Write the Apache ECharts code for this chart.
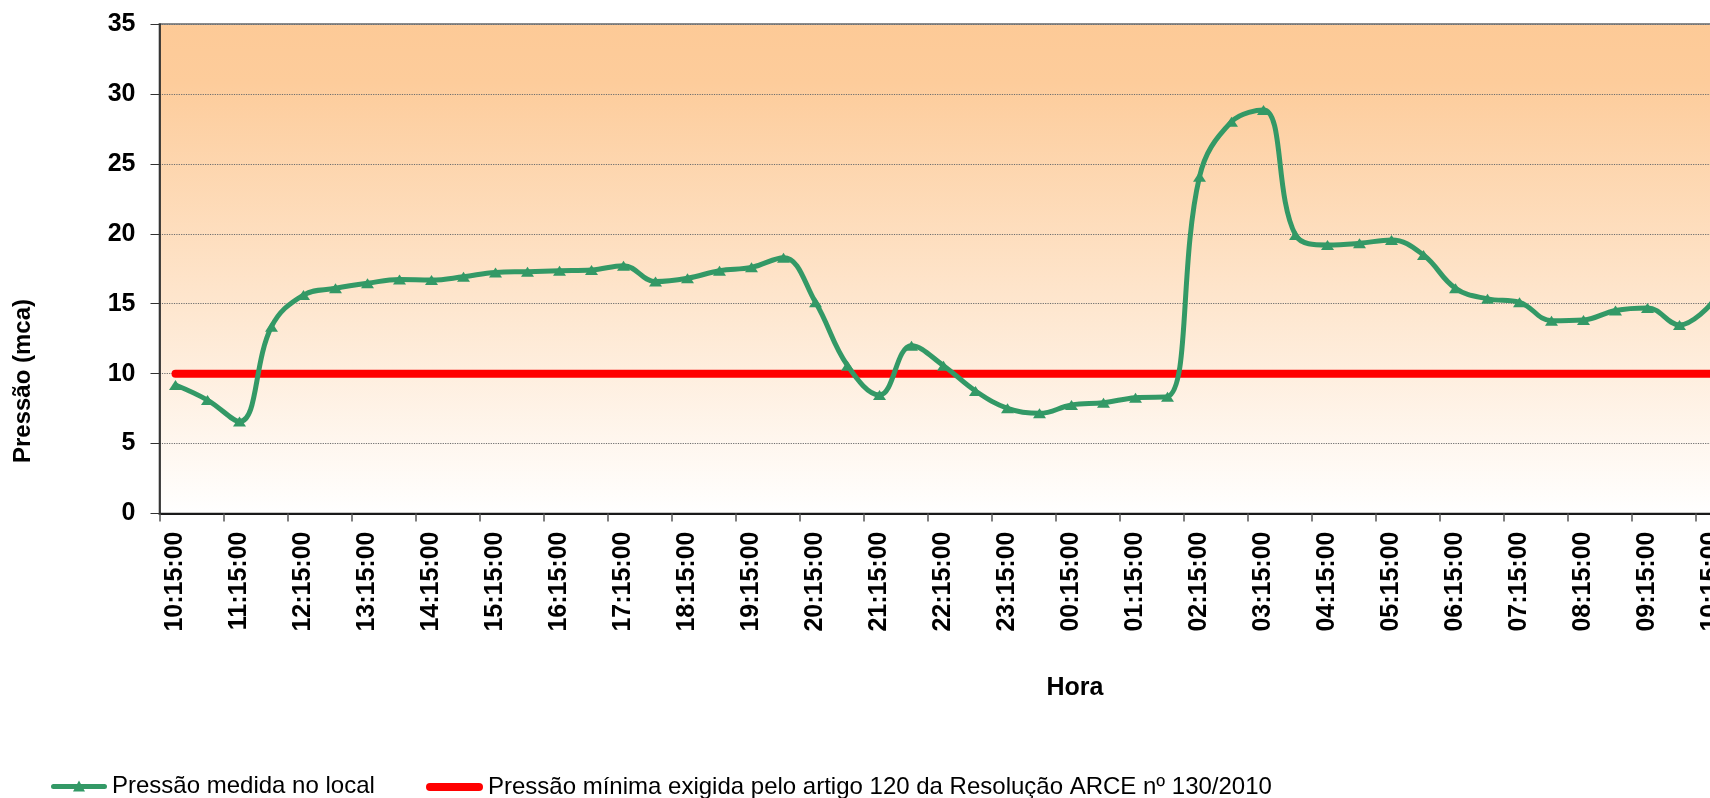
<!DOCTYPE html>
<html>
<head>
<meta charset="utf-8">
<script src="https://cdn.jsdelivr.net/npm/echarts@6/dist/echarts.min.js"></script>
<style>
html,body{margin:0;padding:0;background:#fff;overflow:hidden;width:1710px;height:798px;}
#chart{width:1730px;height:798px;}
</style>
</head>
<body>
<div id="chart"></div>
<script>
var categories = ["10:15:00","10:45:00","11:15:00","11:45:00","12:15:00","12:45:00","13:15:00","13:45:00","14:15:00","14:45:00","15:15:00","15:45:00","16:15:00","16:45:00","17:15:00","17:45:00","18:15:00","18:45:00","19:15:00","19:45:00","20:15:00","20:45:00","21:15:00","21:45:00","22:15:00","22:45:00","23:15:00","23:45:00","00:15:00","00:45:00","01:15:00","01:45:00","02:15:00","02:45:00","03:15:00","03:45:00","04:15:00","04:45:00","05:15:00","05:45:00","06:15:00","06:45:00","07:15:00","07:45:00","08:15:00","08:45:00","09:15:00","09:45:00","10:15:00"];

var pressaoMedida = [9.19,8.11,6.57,13.36,15.62,16.10,16.46,16.74,16.69,16.93,17.24,17.29,17.36,17.41,17.72,16.58,16.82,17.36,17.60,18.29,15.10,10.57,8.47,12.00,10.57,8.76,7.52,7.16,7.76,7.92,8.28,8.35,24.08,28.01,28.85,19.91,19.20,19.32,19.56,18.48,16.10,15.35,15.10,13.79,13.84,14.52,14.70,13.48,15.00];

var pressaoMinima = [10,10,10,10,10,10,10,10,10,10,10,10,10,10,10,10,10,10,10,10,10,10,10,10,10,10,10,10,10,10,10,10,10,10,10,10,10,10,10,10,10,10,10,10,10,10,10,10,10];

var yTicks = {min: 0, max: 35, interval: 5};

var seriesNames = ["Pressão medida no local", "Pressão mínima exigida pelo artigo 120 da Resolução ARCE nº 130/2010"];
var yTitle = "Pressão (mca)";
var xTitle = "Hora";

var FONT = "'Liberation Sans', Arial, sans-serif";
var chart = echarts.init(document.getElementById('chart'), null, {renderer: 'canvas'});
var legendText = {fontFamily: FONT, fontSize: 24, color: '#000'};
chart.setOption({
  animation: false,
  backgroundColor: '#ffffff',
  grid: {
    left: 159.5, top: 24, right: 2.5, bottom: 284.5,
    show: true,
    borderWidth: 2,
    borderColor: '#8c8c8c',
    backgroundColor: {
      type: 'linear', x: 0, y: 0, x2: 0, y2: 1,
      colorStops: [
        {offset: 0, color: '#fdca97'},
        {offset: 0.12, color: '#fdcc9b'},
        {offset: 1, color: '#ffffff'}
      ]
    }
  },
  legend: [
    {
      left: 46, top: 769,
      itemWidth: 56, itemHeight: 11,
      textStyle: legendText,
      data: [{name: seriesNames[0], icon: 'path://M2.5,3.5 L53.5,3.5 A2.5,2.5 0 0 1 53.5,8.5 L2.5,8.5 A2.5,2.5 0 0 1 2.5,3.5 Z M22,11 L28,0 L34,11 Z', itemStyle: {color: '#339966'}}]
    },
    {
      left: 421, top: 770,
      itemWidth: 57, itemHeight: 8,
      textStyle: legendText,
      data: [{name: seriesNames[1], icon: 'path://M4,0 L53,0 A4,4 0 0 1 53,8 L4,8 A4,4 0 0 1 4,0 Z', itemStyle: {color: '#ff0000'}}]
    }
  ],
  xAxis: {
    type: 'category',
    data: categories,
    boundaryGap: true,
    axisLine: {lineStyle: {color: '#1a1a1a', width: 2}},
    axisTick: {show: true, interval: 1, length: 8, lineStyle: {color: '#555', width: 1.5}},
    axisLabel: {
      interval: 1, rotate: 90, margin: 18,
      fontFamily: FONT, fontSize: 25, fontWeight: 'bold', color: '#000'
    },
    splitLine: {show: false}
  },
  yAxis: {
    type: 'value',
    min: yTicks.min, max: yTicks.max, interval: yTicks.interval,
    axisLine: {show: true, lineStyle: {color: '#1a1a1a', width: 1.5}},
    axisTick: {show: true, length: 9, lineStyle: {color: '#333', width: 1}},
    axisLabel: {margin: 24, fontFamily: FONT, fontSize: 25, fontWeight: 'bold', color: '#000'},
    splitLine: {show: true, lineStyle: {type: 'dotted', color: '#6e6e6e', width: 1.2}}
  },
  graphic: [
    {type: 'text', x: 23, y: 381, rotation: Math.PI / 2,
     style: {text: yTitle, font: "bold 24px " + FONT, fill: '#000', align: 'center', verticalAlign: 'middle'}},
    {type: 'text', x: 1075, y: 688,
     style: {text: xTitle, font: "bold 25px " + FONT, fill: '#000', align: 'center', verticalAlign: 'middle'}}
  ],
  series: [
    {
      name: seriesNames[0],
      type: 'line',
      data: pressaoMedida,
      smooth: 0.4,
      symbol: 'triangle',
      symbolSize: [13, 10],
      itemStyle: {color: '#339966'},
      lineStyle: {color: '#339966', width: 5},
      z: 3
    },
    {
      name: seriesNames[1],
      type: 'line',
      data: pressaoMinima,
      showSymbol: false,
      symbol: 'none',
      itemStyle: {color: '#ff0000'},
      lineStyle: {color: '#ff0000', width: 8, cap: 'round'},
      z: 2
    }
  ]
});
</script>
</body>
</html>
